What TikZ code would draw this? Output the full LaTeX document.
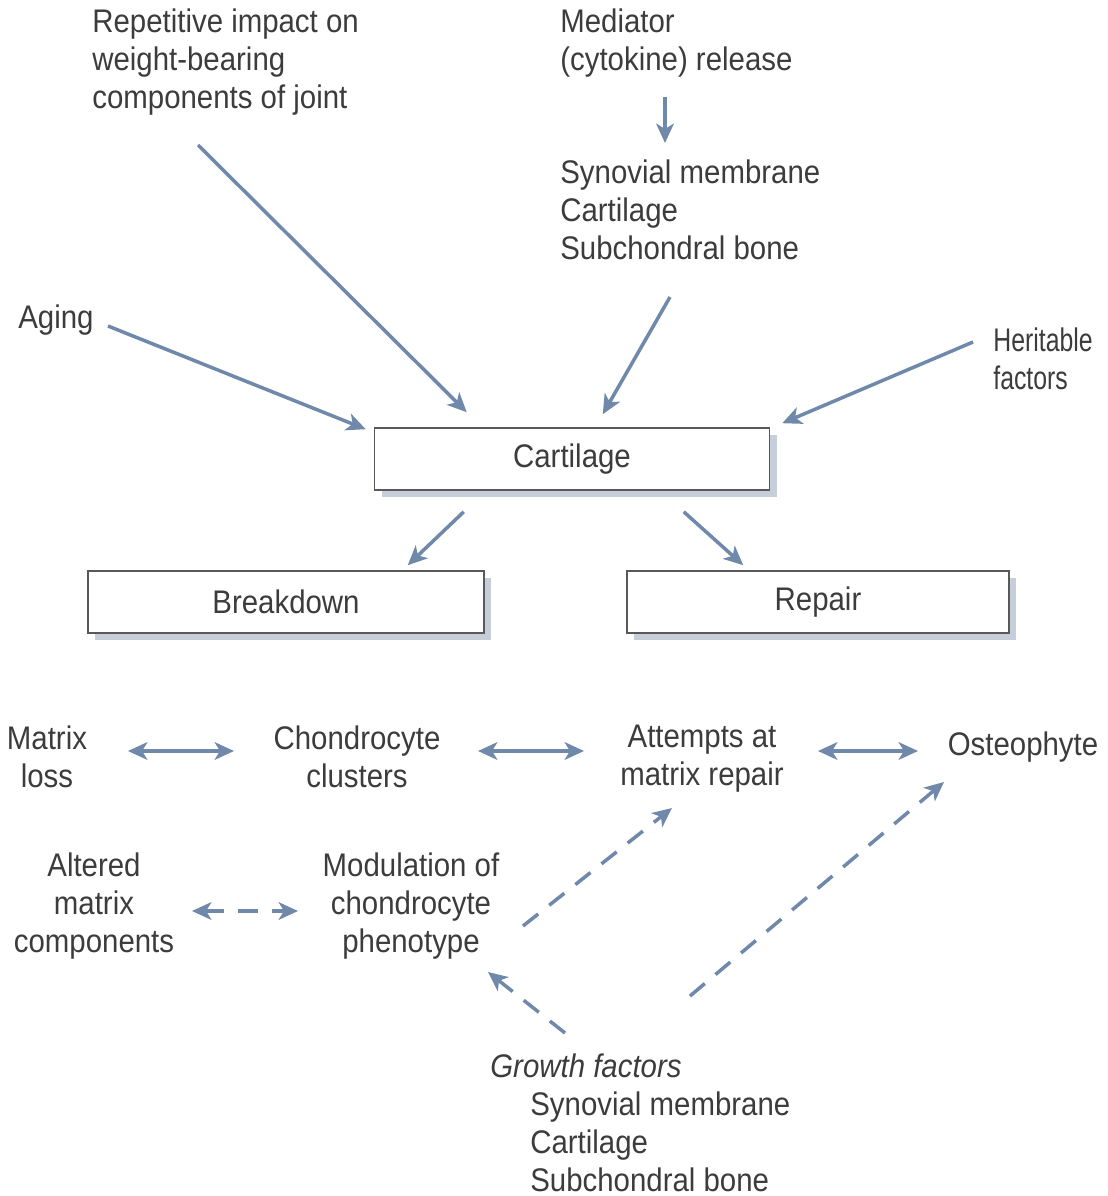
\documentclass[tikz,border=0pt]{standalone}
\usepackage{fontspec}
\setmainfont{Liberation Sans}[FakeStretch=0.9]
\newfontfamily\narrowfont{Liberation Sans}[FakeStretch=0.76]
\usetikzlibrary{arrows.meta,calc,shadows}
\definecolor{arrowblue}{HTML}{7089AA}
\definecolor{inkgray}{HTML}{3C3C3C}
\definecolor{dotshade}{HTML}{C6CEDA}
\tikzset{>={Stealth[length=11pt,width=10pt,inset=3pt]}}
\begin{document}
\begin{tikzpicture}[x=0.02cm,y=-0.02cm,
    every node/.style={text=inkgray,inner sep=0pt,font=\fontsize{18.6}{21.5}\selectfont},
    txt/.style={align=center},
    lefttxt/.style={anchor=west,align=left},
    box/.style={draw=inkgray!85,line width=0.9pt,fill=white,minimum height=1.24cm,
      drop shadow={shadow xshift=4pt,shadow yshift=-4pt,fill=dotshade,opacity=1}},
    arr/.style={draw=arrowblue,line width=2pt,->},
    dbl/.style={draw=arrowblue,line width=2pt,<->},
    dsh/.style={dash pattern=on 11pt off 8pt}]
  \useasboundingbox (0,0) rectangle (1107,1196);
  % top causes
  \node[lefttxt] (rep) at (92,62) {Repetitive impact on\\weight-bearing\\components of joint};
  \node[lefttxt] (med) at (560,43) {Mediator\\(cytokine) release};
  \node[lefttxt] (syn) at (560,210) {Synovial membrane\\Cartilage\\Subchondral bone};
  \node[lefttxt] (aging) at (18,320) {Aging};
  \node[lefttxt,font=\narrowfont\fontsize{18.6}{21.5}\selectfont] (her) at (993,359) {Heritable\\factors};
  % boxes
  \node[box,minimum width=7.9cm] (cart) at (572,459) {Cartilage};
  \node[box,minimum width=7.92cm] (brk) at (286,602) {Breakdown};
  \node[box,minimum width=7.64cm] (rpr) at (818,602) {Repair};
  % lower part
  \node[txt] (mloss) at (47,757) {Matrix\\loss};
  \node[txt] (clust) at (357,757) {Chondrocyte\\clusters};
  \node[txt] (att) at (702,759) {Attempts at\\matrix repair};
  \node[txt] (ost) at (1023,747) {Osteophyte};
  \node[txt] (alt) at (94,906) {Altered\\matrix\\components};
  \node[txt] (mod) at (411,906) {Modulation of\\chondrocyte\\phenotype};
  \node[lefttxt] (grow) at (490,1066) {\itshape Growth factors};
  \node[lefttxt] (syn2) at (530,1142) {Synovial membrane\\Cartilage\\Subchondral bone};
  \begin{scope}
    \draw[arr] ($(rep.west)+(106,83)$) -- ($(cart.north west)+(93,-15)$);
    \draw[arr] ($(med.west)+(105,54)$) -- ($(syn.west)+(105,-67)$);
    \draw[arr] ($(syn.west)+(110,87)$) -- ($(cart.north west)+(229,-13)$);
    \draw[arr] ($(aging.west)+(90,6)$) -- ($(cart.north west)+(-8,2)$);
    \draw[arr] ($(her.west)+(-20,-17)$) -- ($(cart.north east)+(12,-4)$);
    \draw[arr] ($(cart.south west)+(90,21)$) -- ($(brk.north east)+(-77,-5)$);
    \draw[arr] ($(cart.south west)+(310,21)$) -- ($(rpr.north west)+(117,-5)$);
    \draw[dbl] ($(mloss)+(81,-6)$) -- ($(clust)+(-123,-6)$);
    \draw[dbl] ($(clust)+(121,-6)$) -- ($(att)+(-118,-8)$);
    \draw[dbl] ($(att)+(116,-8)$) -- ($(ost)+(-105,4)$);
    \draw[dbl,dsh] ($(alt)+(98,5)$) -- ($(mod)+(-113,5)$);
    \draw[arr,dsh] ($(mod)+(112,20)$) -- ($(att)+(-30,49)$);
    \draw[arr,dsh] ($(grow.west)+(75,-33)$) -- ($(mod)+(77,66)$);
    \draw[arr,dsh] ($(grow.west)+(200,-70)$) -- ($(ost)+(-79,35)$);
  \end{scope}
\end{tikzpicture}
\end{document}
